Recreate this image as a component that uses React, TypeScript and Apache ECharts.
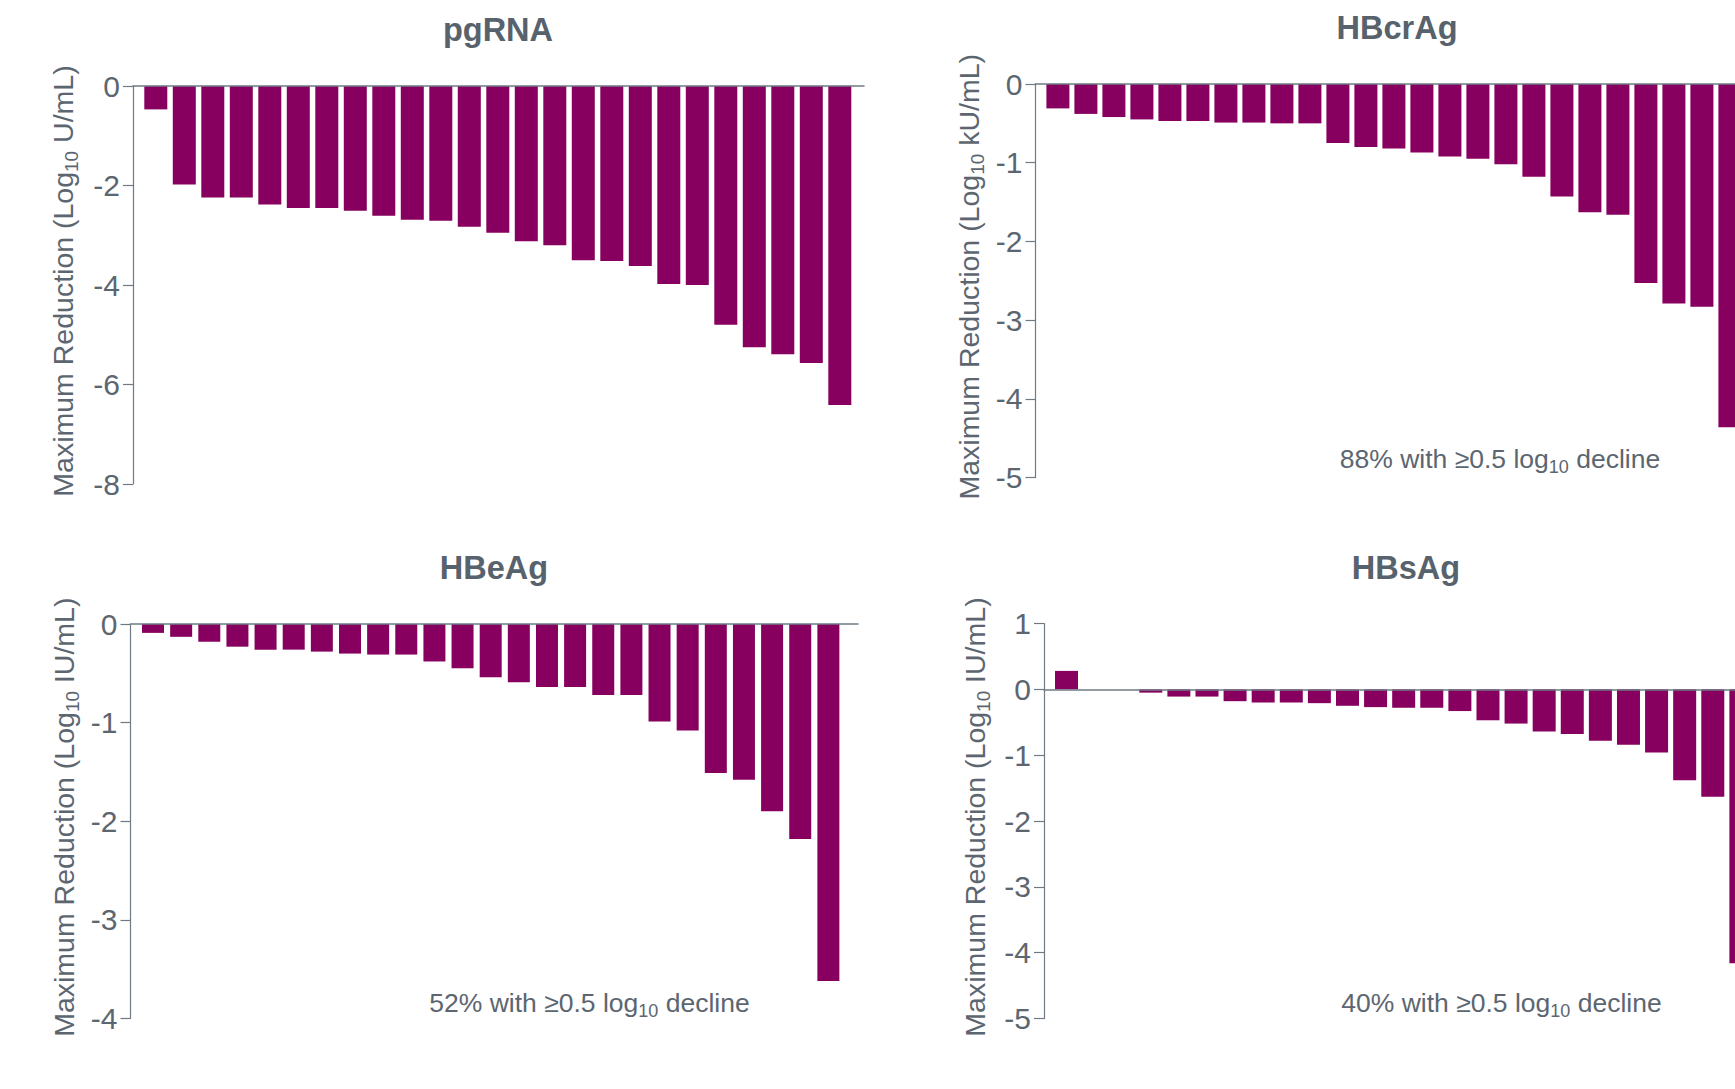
import React, { useEffect, useRef } from 'react';
import * as echarts from 'echarts';

// ---- Data ----
const pgRNAValues = [-0.47, -1.98, -2.24, -2.24, -2.38, -2.45, -2.45, -2.51, -2.61, -2.69, -2.71, -2.83, -2.95, -3.12, -3.2, -3.5, -3.52, -3.62, -3.98, -4.0, -4.8, -5.25, -5.39, -5.57, -6.41];
const hbcrAgValues = [-0.31, -0.38, -0.42, -0.45, -0.47, -0.47, -0.49, -0.49, -0.5, -0.5, -0.75, -0.8, -0.82, -0.87, -0.92, -0.95, -1.02, -1.18, -1.43, -1.63, -1.66, -2.53, -2.79, -2.83, -4.36];
const hbeAgValues = [-0.09, -0.13, -0.18, -0.23, -0.26, -0.26, -0.28, -0.3, -0.31, -0.31, -0.38, -0.45, -0.54, -0.59, -0.64, -0.64, -0.72, -0.72, -0.99, -1.08, -1.51, -1.58, -1.9, -2.18, -3.62];
const hbsAgValues = [0.28, 0, 0, -0.05, -0.11, -0.11, -0.18, -0.2, -0.2, -0.21, -0.25, -0.27, -0.28, -0.28, -0.33, -0.47, -0.52, -0.64, -0.68, -0.78, -0.84, -0.96, -1.38, -1.63, -4.16];

const panelTitles = ['pgRNA', 'HBcrAg', 'HBeAg', 'HBsAg'];
const panelUnits = [' U/mL)', ' kU/mL)', ' IU/mL)', ' IU/mL)'];
const panelNotes = ['', '88%', '52%', '40%'];
const yMins = [-8, -5, -4, -5];
const yMaxs = [0, 0, 0, 1];
const yIntervals = [2, 1, 1, 1];

// ---- Layout / style ----
const TEXT = '#5c6670';
const TITLE = '#57626c';
const AXIS = '#6f7a84';
const BAR = '#87005f';
const FONT = '"Liberation Sans", Arial, Helvetica, sans-serif';

const layout = [
  { left: 133, top: 86, width: 731, height: 398, pitch: 28.5, barW: 23, nameGap: 52, titleX: 498, titleY: 30, noteX: 0, noteY: 0 },
  { left: 1035.5, top: 84, width: 731, height: 393.5, pitch: 28.0, barW: 23, nameGap: 49, titleX: 1397, titleY: 28, noteX: 1500, noteY: 459 },
  { left: 130.5, top: 624, width: 727.5, height: 394.4, pitch: 28.14, barW: 22, nameGap: 49, titleX: 494, titleY: 568, noteX: 589.5, noteY: 1003 },
  { left: 1044, top: 623.5, width: 731, height: 395, pitch: 28.1, barW: 23, nameGap: 51.5, titleX: 1406, titleY: 567.5, noteX: 1501.5, noteY: 1003 },
];

const seriesData = [pgRNAValues, hbcrAgValues, hbeAgValues, hbsAgValues];

export default function App() {
  const ref = useRef<HTMLDivElement>(null);

  useEffect(() => {
    if (!ref.current) return;
    const chart = echarts.init(ref.current, null, { renderer: 'svg' });

    const grid: any[] = [];
    const xAxis: any[] = [];
    const yAxis: any[] = [];
    const series: any[] = [];
    const graphic: any[] = [];

    layout.forEach((p, i) => {
      grid.push({ left: p.left, top: p.top, width: p.width, height: p.height, containLabel: false });
      const xmin = -0.8;
      const xmax = xmin + p.width / p.pitch;
      xAxis.push({
        type: 'value',
        gridIndex: i,
        min: xmin,
        max: xmax,
        z: 3,
        axisLine: { show: true, onZero: true, lineStyle: { color: AXIS, width: 1.5 } },
        axisTick: { show: false },
        axisLabel: { show: false },
        splitLine: { show: false },
      });
      yAxis.push({
        type: 'value',
        gridIndex: i,
        min: yMins[i],
        max: yMaxs[i],
        interval: yIntervals[i],
        axisLine: { show: true, onZero: false, lineStyle: { color: AXIS, width: 1.2 } },
        axisTick: { show: true, length: 10, lineStyle: { color: AXIS, width: 1.2 } },
        axisLabel: { margin: 13, color: TEXT, fontSize: 30, fontFamily: FONT },
        splitLine: { show: false },
        name: '{a|Maximum Reduction (Log}{s|10}{a|' + panelUnits[i] + '}',
        nameLocation: 'middle',
        nameGap: p.nameGap,
        nameTextStyle: {
          color: TEXT,
          fontFamily: FONT,
          fontSize: 28.5,
          padding: [0, 0, 0, 8],
          rich: {
            a: { color: TEXT, fontFamily: FONT, fontSize: 28.5 },
            s: { color: TEXT, fontFamily: FONT, fontSize: 19, lineHeight: 36, verticalAlign: 'bottom' },
          },
        },
      });
      series.push({
        type: 'bar',
        xAxisIndex: i,
        yAxisIndex: i,
        barWidth: p.barW,
        silent: true,
        itemStyle: { color: BAR },
        data: seriesData[i].map((v, k) => [k, v]),
      });
      graphic.push({
        type: 'text',
        x: p.titleX,
        y: p.titleY,
        silent: true,
        style: {
          text: panelTitles[i],
          fill: TITLE,
          font: 'bold 32.5px ' + FONT,
          align: 'center',
          verticalAlign: 'middle',
        },
      });
      if (panelNotes[i]) {
        graphic.push({
          type: 'text',
          x: p.noteX,
          y: p.noteY,
          silent: true,
          style: {
            text: '{a|' + panelNotes[i] + ' with \u22650.5 log}{s|10}{a| decline}',
            align: 'center',
            verticalAlign: 'middle',
            rich: {
              a: { fill: TEXT, fontFamily: FONT, fontSize: 26.5 },
              s: { fill: TEXT, fontFamily: FONT, fontSize: 18, lineHeight: 34, verticalAlign: 'bottom' },
            },
          },
        });
      }
    });

    chart.setOption({
      animation: false,
      backgroundColor: '#ffffff',
      grid,
      xAxis,
      yAxis,
      series,
      graphic,
    });

    return () => chart.dispose();
  }, []);

  return (
    <div style={{ position: 'fixed', left: 0, top: 0, width: 1735, height: 1089, overflow: 'hidden', background: '#fff' }}>
      <div ref={ref} style={{ width: 1800, height: 1089 }} />
    </div>
  );
}
